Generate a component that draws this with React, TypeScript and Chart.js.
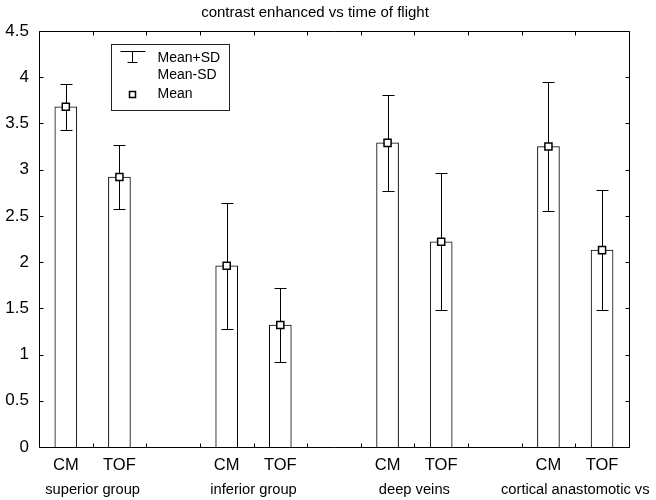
import { useEffect, useRef } from "react";
import { Chart, registerables } from "chart.js";

Chart.register(...registerables);

const title = "contrast enhanced vs time of flight";
const groups = ["superior group", "inferior group", "deep veins", "cortical anastomotic vs"];
const methods = ["CM", "TOF"];
const cmMean = [3.68, 1.96, 3.29, 3.25];
const cmSD = [0.25, 0.68, 0.52, 0.7];
const tofMean = [2.92, 1.32, 2.22, 2.13];
const tofSD = [0.35, 0.4, 0.74, 0.65];
const yMin = 0;
const yMax = 4.5;
const yStep = 0.5;
const legendLabels = ["Mean+SD", "Mean-SD", "Mean"];

// build slots: CM, TOF, gap, CM, TOF, gap ...
const labels: string[] = [];
const means: (number | null)[] = [];
const sds: (number | null)[] = [];
groups.forEach((_, g) => {
  labels.push(methods[0], methods[1]);
  means.push(cmMean[g], tofMean[g]);
  sds.push(cmSD[g], tofSD[g]);
  if (g < groups.length - 1) {
    labels.push("");
    means.push(null);
    sds.push(null);
  }
});
const slotsPerGroup = 3;

const FONT = "'Liberation Sans', Arial, Helvetica, sans-serif";

const errorBarsPlugin = {
  id: "errorBars",
  afterDatasetDraw(chart: any, args: any) {
    if (args.index !== 0) return;
    const ctx = chart.ctx;
    const y = chart.scales.y;
    const meta = chart.getDatasetMeta(0);
    ctx.save();
    ctx.strokeStyle = "#000";
    ctx.lineWidth = 1;
    meta.data.forEach((bar: any, i: number) => {
      const m = means[i];
      const s = sds[i];
      if (m == null || s == null) return;
      const x = Math.round(bar.x) + 0.5;
      const yt = Math.round(y.getPixelForValue(m + s)) + 0.5;
      const yb = Math.round(y.getPixelForValue(m - s)) + 0.5;
      const cap = 6;
      ctx.beginPath();
      ctx.moveTo(x, yt);
      ctx.lineTo(x, yb);
      ctx.moveTo(x - cap, yt);
      ctx.lineTo(x + cap, yt);
      ctx.moveTo(x - cap, yb);
      ctx.lineTo(x + cap, yb);
      ctx.stroke();
    });
    ctx.restore();
  },
};

const framePlugin = {
  id: "frame",
  afterDraw(chart: any) {
    const ctx = chart.ctx;
    const ca = chart.chartArea;
    const x = chart.scales.x;
    const y = chart.scales.y;
    const L = Math.round(ca.left) + 0.5;
    const R = Math.round(ca.right) + 0.5;
    const T = Math.round(ca.top) + 0.5;
    const B = Math.round(ca.bottom) + 0.5;
    ctx.save();
    ctx.strokeStyle = "#000";
    ctx.lineWidth = 1;
    ctx.beginPath();
    ctx.rect(L, T, R - L, B - T);
    const tl = 4;
    for (let v = yMin; v <= yMax + 1e-9; v += yStep) {
      const py = Math.round(y.getPixelForValue(v)) + 0.5;
      ctx.moveTo(L, py);
      ctx.lineTo(L + tl, py);
      ctx.moveTo(R, py);
      ctx.lineTo(R - tl, py);
    }
    for (let i = 0; i < labels.length - 1; i++) {
      const px = Math.round(x.getPixelForValue(i + 0.5)) + 0.5;
      ctx.moveTo(px, T);
      ctx.lineTo(px, T + tl);
      ctx.moveTo(px, B);
      ctx.lineTo(px, B - tl);
    }
    ctx.stroke();
    ctx.restore();
  },
};

const legendPlugin = {
  id: "customLegend",
  afterDraw(chart: any) {
    const ctx = chart.ctx;
    const ca = chart.chartArea;
    const bx = Math.round(ca.left + 72) + 0.5;
    const by = Math.round(ca.top + 13) + 0.5;
    const bw = 118;
    const bh = 66;
    ctx.save();
    ctx.fillStyle = "#fff";
    ctx.fillRect(bx, by, bw, bh);
    ctx.strokeStyle = "#222";
    ctx.lineWidth = 1;
    ctx.strokeRect(bx, by, bw, bh);
    // error bar symbol
    const sx = bx + 21;
    const sTop = by + 7;
    const sBot = by + 18;
    ctx.strokeStyle = "#000";
    ctx.beginPath();
    ctx.moveTo(sx - 12, sTop);
    ctx.lineTo(sx + 13, sTop);
    ctx.moveTo(sx, sTop);
    ctx.lineTo(sx, sBot);
    ctx.moveTo(sx - 5, sBot);
    ctx.lineTo(sx + 5, sBot);
    ctx.stroke();
    // mean marker
    ctx.fillStyle = "#fff";
    ctx.lineWidth = 1.5;
    ctx.beginPath();
    ctx.rect(sx - 3, by + 47, 6, 6);
    ctx.fill();
    ctx.stroke();
    // text
    ctx.fillStyle = "#000";
    ctx.font = `14px ${FONT}`;
    ctx.textBaseline = "middle";
    ctx.textAlign = "left";
    const tx = bx + 46;
    ctx.fillText(legendLabels[0], tx, by + 14);
    ctx.fillText(legendLabels[1], tx, by + 31);
    ctx.fillText(legendLabels[2], tx, by + 50);
    ctx.restore();
  },
};

export default function App() {
  const canvasRef = useRef<HTMLCanvasElement | null>(null);

  useEffect(() => {
    document.body.style.margin = "0";
    const canvas = canvasRef.current;
    if (!canvas) return;
    const chart = new Chart(canvas, {
      type: "bar",
      data: {
        labels,
        datasets: [
          {
            type: "bar",
            data: means as any,
            backgroundColor: "#ffffff",
            borderColor: "#000000",
            borderWidth: 1,
            barThickness: 22,
            order: 1,
            xAxisID: "x",
            yAxisID: "y",
          },
          {
            type: "line",
            data: means as any,
            showLine: false,
            pointStyle: "rect",
            pointRadius: 5,
            pointBorderWidth: 1.5,
            pointBackgroundColor: "#ffffff",
            pointBorderColor: "#000000",
            order: 0,
            xAxisID: "x",
            yAxisID: "y",
          },
        ],
      },
      options: {
        responsive: false,
        animation: false,
        layout: { padding: { left: 0, right: 26, top: 0, bottom: 0 } },
        plugins: {
          legend: { display: false },
          tooltip: { enabled: false },
          title: {
            display: true,
            text: title,
            color: "#000",
            font: { family: FONT, size: 15, weight: "normal" },
            padding: { top: 4, bottom: 9 },
          },
        },
        scales: {
          x: {
            type: "category",
            offset: true,
            grid: { display: false, drawTicks: false },
            border: { display: false },
            ticks: {
              color: "#000",
              font: { family: FONT, size: 16.5 },
              padding: 9,
              autoSkip: false,
              maxRotation: 0,
            },
            afterFit: (s: any) => {
              s.height = 30;
            },
          },
          x2: {
            type: "linear",
            position: "bottom",
            offset: false,
            bounds: "data",
            min: -0.5,
            max: labels.length - 0.5,
            grid: { display: false, drawTicks: false, offset: false },
            border: { display: false },
            afterBuildTicks: (s: any) => {
              s.ticks = groups.map((_, i) => ({ value: i * slotsPerGroup + 0.5 }));
            },
            ticks: {
              color: "#000",
              font: { family: FONT, size: 14.7 },
              padding: 4,
              autoSkip: false,
              maxRotation: 0,
              callback: (_v: any, i: number) => groups[i],
            },
            afterFit: (s: any) => {
              s.height = 23;
            },
          },
          y: {
            min: yMin,
            max: yMax,
            grid: { display: false, drawTicks: false },
            border: { display: false },
            ticks: {
              stepSize: yStep,
              color: "#000",
              font: { family: FONT, size: 17 },
              padding: 10,
              callback: (v: any) => String(Number(v)),
            },
            afterFit: (s: any) => {
              s.width = 39;
            },
          },
        },
      },
      plugins: [errorBarsPlugin, framePlugin, legendPlugin],
    });
    return () => chart.destroy();
  }, []);

  return (
    <div style={{ width: 656, height: 500 }}>
      <canvas ref={canvasRef} width={656} height={500} />
    </div>
  );
}
